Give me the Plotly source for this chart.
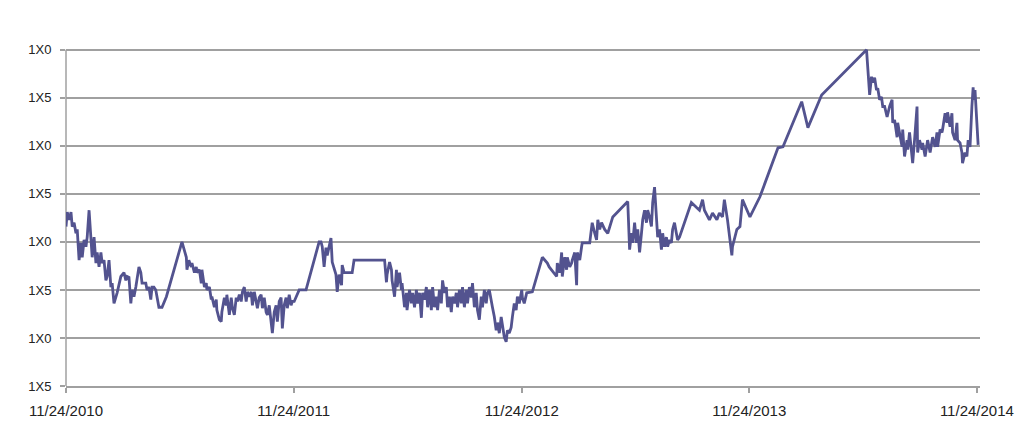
import pandas as pd
import plotly.graph_objects as go

start_date = "2010-11-24"
end_date = "2014-11-29"

# days since 11/24/2010
days = [0, 2, 5, 8, 10, 13, 16, 18, 21, 24, 26, 29, 32, 34, 37, 40, 42, 45, 48, 50,
        53, 56, 58, 61, 64, 66, 69, 72, 74, 77, 82, 88, 93, 96, 98, 101, 104, 106, 109, 112,
        117, 120, 122, 128, 130, 133, 136, 138, 141, 144, 149, 154, 161, 186, 193, 194, 197, 201, 202, 206,
        209, 210, 214, 217, 218, 222, 225, 226, 230, 233, 234, 238, 241, 242, 246, 249, 250, 254, 257, 258,
        262, 265, 267, 270, 273, 275, 278, 281, 283, 286, 289, 291, 294, 297, 299, 302, 305, 307, 310, 313,
        315, 318, 321, 323, 326, 329, 331, 334, 337, 339, 342, 345, 347, 350, 353, 355, 358, 361, 363, 366,
        369, 374, 385, 406, 409, 411, 414, 417, 419, 425, 427, 430, 433, 435, 438, 442, 443, 446, 459, 462,
        511, 514, 515, 519, 522, 523, 527, 530, 531, 535, 538, 539, 543, 546, 547, 551, 554, 556, 559, 562,
        564, 567, 570, 572, 575, 578, 580, 583, 586, 588, 591, 594, 596, 599, 602, 604, 607, 610, 612, 615,
        618, 620, 623, 626, 628, 631, 634, 636, 639, 642, 644, 647, 650, 652, 655, 658, 660, 663, 666, 668,
        671, 674, 676, 679, 682, 684, 687, 690, 692, 695, 698, 700, 703, 706, 708, 711, 714, 716, 719, 722,
        724, 727, 731, 732, 735, 739, 748, 764, 772, 775, 787, 788, 792, 795, 796, 800, 803, 804, 808, 811,
        812, 816, 819, 820, 824, 827, 828, 840, 844, 848, 851, 853, 856, 859, 864, 869, 877, 901, 904, 907,
        909, 912, 915, 917, 920, 923, 925, 928, 931, 933, 936, 939, 941, 944, 947, 949, 952, 955, 957, 960,
        963, 965, 968, 971, 973, 976, 979, 981, 984, 1003, 1011, 1016, 1021, 1024, 1032, 1037, 1044, 1048, 1053, 1056,
        1061, 1068, 1069, 1076, 1081, 1085, 1097, 1113, 1142, 1150, 1180, 1190, 1212, 1284, 1289, 1292, 1294, 1297, 1300, 1302,
        1305, 1308, 1310, 1313, 1317, 1321, 1325, 1326, 1329, 1333, 1334, 1337, 1341, 1342, 1345, 1349, 1350, 1353, 1357, 1358,
        1361, 1365, 1366, 1369, 1373, 1374, 1378, 1381, 1382, 1386, 1389, 1390, 1394, 1397, 1398, 1402, 1405, 1406, 1410, 1413,
        1414, 1418, 1421, 1422, 1426, 1429, 1430, 1434, 1437, 1438, 1442, 1445, 1447, 1450, 1453, 1455, 1456, 1458, 1461, 1463]

values = [116.6, 118.1, 117.3, 118.1, 116.6, 117.0, 115.9, 116.3, 113.1, 114.9, 113.4, 115.2, 114.5, 115.5, 118.3, 115.2, 113.4, 115.5, 112.8, 113.9,
          112.4, 113.9, 112.8, 113.1, 111.0, 111.4, 113.1, 110.3, 110.7, 108.6, 109.7, 111.4, 111.8, 111.0, 111.4, 111.3, 108.6, 110.0, 109.3, 110.3,
          112.4, 111.8, 110.7, 110.7, 110.0, 110.3, 109.0, 110.3, 110.3, 110.0, 108.2, 108.2, 109.3, 115.0, 113.4, 112.1, 113.1, 112.4, 112.8, 111.8,
          112.4, 111.8, 112.1, 110.7, 112.1, 110.3, 110.7, 110.0, 110.3, 109.0, 109.3, 108.2, 109.0, 107.9, 106.9, 106.7, 107.7, 109.2, 108.4, 109.5,
          107.4, 109.2, 108.1, 107.4, 109.2, 108.8, 109.5, 108.8, 109.8, 110.3, 108.8, 109.8, 109.3, 109.8, 108.4, 109.8, 108.8, 108.1, 109.2, 109.5,
          108.1, 109.2, 107.7, 107.4, 108.4, 106.7, 105.5, 107.7, 108.4, 106.7, 108.8, 109.2, 106.0, 108.4, 109.2, 108.1, 109.5, 108.4, 108.8, 108.8,
          109.2, 110.0, 110.0, 115.0, 115.0, 114.5, 112.4, 114.4, 113.6, 115.4, 112.9, 112.3, 111.6, 109.8, 111.6, 110.5, 112.6, 111.8, 111.8, 113.1,
          113.1, 110.8, 111.6, 112.9, 112.1, 111.0, 109.3, 112.1, 110.3, 111.8, 110.0, 110.7, 108.2, 109.7, 107.9, 110.0, 108.6, 109.7, 108.2, 110.0,
          108.6, 109.7, 107.1, 109.7, 109.0, 110.3, 108.2, 110.0, 107.9, 110.3, 108.2, 109.3, 107.9, 110.0, 108.6, 111.0, 109.7, 110.3, 108.2, 109.3,
          107.7, 109.3, 108.6, 109.7, 108.2, 110.0, 108.6, 110.3, 108.2, 110.0, 108.6, 110.3, 109.2, 110.7, 108.2, 109.7, 107.9, 106.9, 109.3, 108.2,
          110.0, 108.6, 109.7, 110.0, 108.6, 108.2, 107.2, 105.8, 106.6, 105.5, 107.2, 106.1, 105.1, 104.6, 105.8, 105.5, 106.1, 107.2, 108.6, 107.9,
          109.3, 108.6, 110.0, 109.2, 108.6, 109.7, 109.8, 113.4, 112.8, 112.4, 111.4, 112.8, 111.8, 113.9, 111.4, 113.4, 112.1, 113.4, 112.4, 112.8,
          113.1, 113.9, 110.5, 113.9, 113.1, 114.5, 114.9, 114.9, 117.0, 115.9, 115.2, 117.3, 116.3, 117.0, 116.3, 115.9, 117.6, 119.2, 114.2, 115.9,
          114.9, 117.0, 114.9, 116.3, 113.9, 115.9, 117.3, 118.3, 117.0, 118.3, 117.6, 116.6, 119.1, 120.7, 117.6, 115.5, 116.3, 114.2, 115.9, 114.5,
          115.5, 114.5, 115.2, 114.9, 116.3, 117.0, 115.9, 115.2, 115.5, 119.1, 118.6, 118.3, 119.4, 118.3, 117.3, 118.0, 117.3, 118.0, 117.6, 119.4,
          117.3, 113.6, 114.5, 116.3, 116.6, 119.4, 117.6, 119.7, 124.8, 124.9, 129.6, 126.9, 130.3, 135.0, 130.3, 132.2, 131.6, 132.1, 130.8, 131.0,
          129.8, 130.1, 129.1, 129.1, 128.0, 129.1, 129.8, 127.4, 127.7, 125.9, 127.4, 126.4, 124.9, 126.7, 123.9, 125.6, 124.6, 126.4, 124.3, 123.2,
          125.6, 129.1, 124.3, 125.6, 124.6, 125.3, 123.9, 124.9, 125.6, 124.3, 125.3, 125.9, 124.9, 126.4, 124.9, 126.7, 126.4, 126.7, 128.4, 127.4,
          128.5, 127.0, 128.4, 126.4, 125.6, 127.4, 125.6, 125.3, 124.3, 123.2, 124.3, 123.9, 125.6, 124.9, 129.1, 131.1, 129.8, 130.8, 127.4, 125.1]

y_tick_values = [100, 105, 110, 115, 120, 125, 130, 135]
y_tick_labels = ["1X5", "1X0", "1X5", "1X0", "1X5", "1X0", "1X5", "1X0"]
x_tick_dates = ["2010-11-24", "2011-11-24", "2012-11-24", "2013-11-24", "2014-11-24"]
x_tick_labels = ["11/24/2010", "11/24/2011", "11/24/2012", "11/24/2013", "11/24/2014"]

dates = pd.Timestamp(start_date) + pd.to_timedelta(days, unit="D")

fig = go.Figure()
fig.add_trace(go.Scatter(
    x=dates, y=values, mode="lines",
    line=dict(color="#53538f", width=2.8),
    hoverinfo="x+y", showlegend=False,
))

grid_col = "#a0a0a0"
fig.update_layout(
    width=1024, height=425,
    margin=dict(l=58, r=52, t=37, b=47),
    paper_bgcolor="white", plot_bgcolor="white",
    font=dict(family="Liberation Sans, Arial, sans-serif", color="#222222"),
    xaxis=dict(
        type="date",
        range=[start_date, end_date],
        tickvals=x_tick_dates, ticktext=x_tick_labels,
        showgrid=False, zeroline=False,
        showline=True, linecolor=grid_col, linewidth=1.5,
        ticks="outside", ticklen=5, tickcolor=grid_col, tickwidth=1.5,
        tickfont=dict(size=15, color="#222222"),
        ticklabelstandoff=5,
    ),
    yaxis=dict(
        range=[100, 135.5],
        tickvals=y_tick_values, ticktext=y_tick_labels,
        showgrid=True, gridcolor=grid_col, gridwidth=1.5,
        zeroline=False, showline=False,
        ticks="outside", ticklen=5, tickcolor=grid_col, tickwidth=1.5,
        tickfont=dict(size=13, color="#222222"),
        ticklabelstandoff=6,
    ),
)
fig.add_shape(type="line", xref="paper", yref="y", x0=0, x1=0, y0=100, y1=135,
              line=dict(color=grid_col, width=1.5), layer="below")

fig.write_html("out.html")
